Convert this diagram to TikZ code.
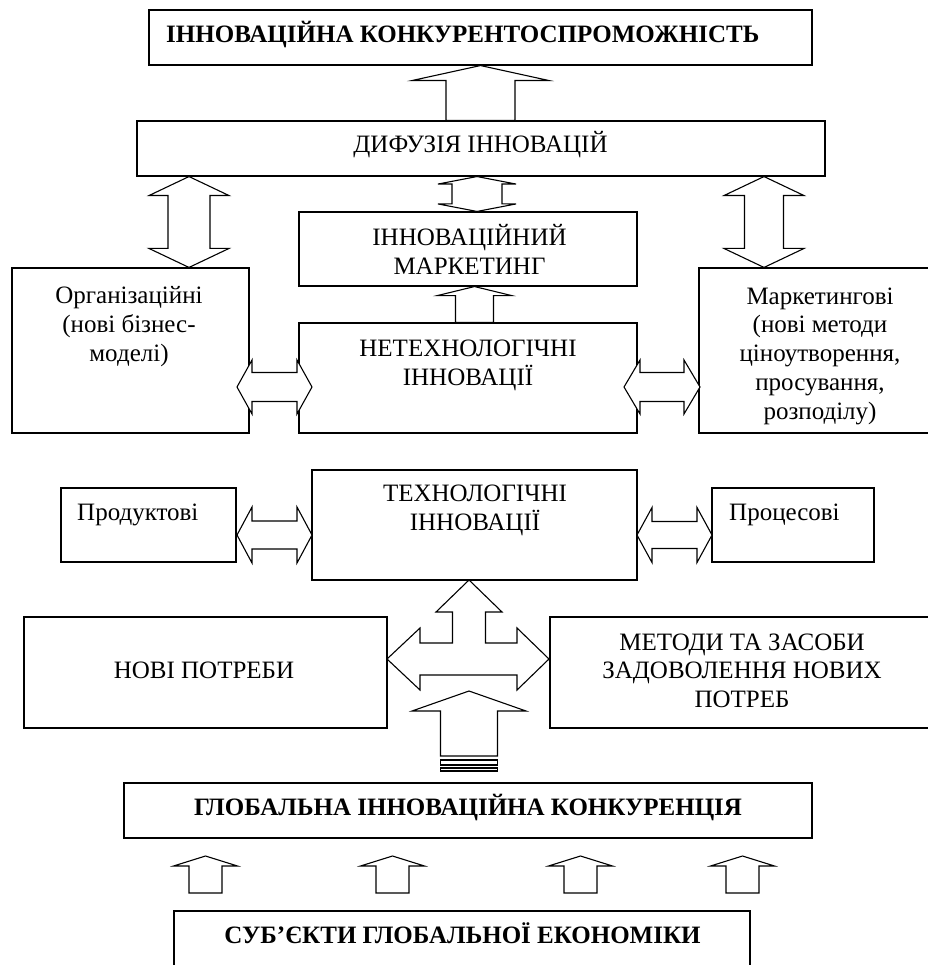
\documentclass[tikz,border=0pt]{standalone}
\usepackage{fontspec}
\setmainfont{Liberation Serif}

\tikzset{
  box/.style={draw, rectangle, line width=1.1pt, inner sep=0pt},
  txt/.style={font=\fontsize{25}{28.75}\selectfont, align=center, inner sep=0pt},
  ttl/.style={txt, font=\fontsize{25}{28.75}\selectfont\bfseries},
  blockarr/.style={draw, fill=white, line width=1.1pt, line join=miter}
}

\newcommand{\uparr}[5]{%
  \draw[blockarr] (#1) -- ([shift={(#4,#5)}]#1) -- ([shift={(#3,#5)}]#1) -- ([shift={(#3,0)}]#2)
    -- ([shift={(-#3,0)}]#2) -- ([shift={(-#3,#5)}]#1) -- ([shift={(-#4,#5)}]#1) -- cycle;}
\newcommand{\vdarr}[5]{%
  \draw[blockarr] (#1) -- ([shift={(#4,#5)}]#1) -- ([shift={(#3,#5)}]#1) -- ([shift={(#3,-#5)}]#2)
    -- ([shift={(#4,-#5)}]#2) -- (#2) -- ([shift={(-#4,-#5)}]#2) -- ([shift={(-#3,-#5)}]#2)
    -- ([shift={(-#3,#5)}]#1) -- ([shift={(-#4,#5)}]#1) -- cycle;}
\newcommand{\hdarr}[5]{%
  \draw[blockarr] (#1) -- ([shift={(#5,-#4)}]#1) -- ([shift={(#5,-#3)}]#1) -- ([shift={(-#5,-#3)}]#2)
    -- ([shift={(-#5,-#4)}]#2) -- (#2) -- ([shift={(-#5,#4)}]#2) -- ([shift={(-#5,#3)}]#2)
    -- ([shift={(#5,#3)}]#1) -- ([shift={(#5,#4)}]#1) -- cycle;}

\begin{document}
\begin{tikzpicture}[x=1pt, y=-1pt]
\path[fill=white, use as bounding box] (0,0) rectangle (927,965);

\node[box, minimum width=663, minimum height=55] (topb) at (480.5,37.5) {};
\node[box, minimum width=688, minimum height=55] (diff) at (481,148.5) {};
\node[box, minimum width=338, minimum height=74] (imark) at (468,249) {};
\node[box, minimum width=237, minimum height=165] (orgb) at (130.5,350.5) {};
\node[box, minimum width=338, minimum height=110] (nontech) at (468,378) {};
\node[box, minimum width=241, minimum height=165] (markb) at (819.5,350.5) {};
\node[box, minimum width=175, minimum height=74] (prod) at (148.5,525) {};
\node[box, minimum width=325, minimum height=110] (tech) at (474.5,525) {};
\node[box, minimum width=162, minimum height=74] (proc) at (793,525) {};
\node[box, minimum width=363, minimum height=111] (needs) at (205.5,672.5) {};
\node[box, minimum width=384, minimum height=111] (methods) at (742,672.5) {};
\node[box, minimum width=688, minimum height=55] (global) at (468,810.5) {};
\node[box, minimum width=576, minimum height=56] (subj) at (462,939) {};

\coordinate (u1t) at (480.5,0 |- topb.south);
\coordinate (u1b) at (480.5,0 |- diff.north);
\uparr{u1t}{u1b}{34.5}{68.5}{15}

\coordinate (d1t) at (189,0 |- diff.south);
\coordinate (d1b) at (189,0 |- orgb.north);
\vdarr{d1t}{d1b}{21}{40}{19}
\coordinate (d2t) at (477,0 |- diff.south);
\coordinate (d2b) at (477,0 |- imark.north);
\vdarr{d2t}{d2b}{25}{39}{7.5}
\coordinate (d3t) at (764,0 |- diff.south);
\coordinate (d3b) at (764,0 |- markb.north);
\vdarr{d3t}{d3b}{19.5}{40}{19}

\coordinate (u2t) at (474.5,0 |- imark.south);
\coordinate (u2b) at (474.5,0 |- nontech.north);
\uparr{u2t}{u2b}{19}{37}{9}

\coordinate (h1a) at (237,387);
\coordinate (h1b) at (312,387);
\hdarr{h1a}{h1b}{14.5}{27}{15}
\coordinate (h2a) at (624,387);
\coordinate (h2b) at (700,387);
\hdarr{h2a}{h2b}{14.5}{27}{16}
\coordinate (h3a) at (237,535);
\coordinate (h3b) at (312,535);
\hdarr{h3a}{h3b}{14}{28}{15}
\coordinate (h4a) at (637,535);
\coordinate (h4b) at (712,535);
\hdarr{h4a}{h4b}{13.5}{27.5}{15}

\coordinate (hub) at (469,659);
\draw[blockarr, shift={(hub)}] (0,-79) -- (33,-47) -- (16.5,-47) -- (16.5,-16) -- (48,-16) -- (48,-31)
  -- (80,0) -- (48,31) -- (48,16) -- (-49,16) -- (-49,31) -- (-82,0) -- (-49,-31) -- (-49,-16)
  -- (-16.5,-16) -- (-16.5,-47) -- (-33,-47) -- cycle;

\coordinate (bigt) at (469,691);
\coordinate (bigb) at (469,756);
\uparr{bigt}{bigb}{28.5}{57}{20}
\draw[blockarr] ([shift={(-28.5,4)}]bigb) rectangle ([shift={(28.5,9)}]bigb);
\draw[blockarr] ([shift={(-28.5,12)}]bigb) rectangle ([shift={(28.5,15)}]bigb);

\coordinate (s1t) at (205.5,856);
\coordinate (s1b) at (205.5,893);
\uparr{s1t}{s1b}{16.5}{32}{10}
\coordinate (s2t) at (392.5,856);
\coordinate (s2b) at (392.5,893);
\uparr{s2t}{s2b}{16.5}{32}{10}
\coordinate (s3t) at (580.5,856);
\coordinate (s3b) at (580.5,893);
\uparr{s3t}{s3b}{16.5}{32}{10}
\coordinate (s4t) at (742.5,856);
\coordinate (s4b) at (742.5,893);
\uparr{s4t}{s4b}{16.5}{32}{10}

\node[ttl, anchor=base west] (topt) at (166,43) {ІННОВАЦІЙНА КОНКУРЕНТОСПРОМОЖНІСТЬ};
\node[txt, anchor=base] (difft) at (480.5,153) {ДИФУЗІЯ ІННОВАЦІЙ};
\node[txt, anchor=base] (imarkt) at (469.5,274) {ІННОВАЦІЙНИЙ\\МАРКЕТИНГ};
\node[txt, anchor=base] (orgt) at (129,361) {Організаційні\\(нові бізнес-\\моделі)};
\node[txt, anchor=base] (nontt) at (468,385) {НЕТЕХНОЛОГІЧНІ\\ІННОВАЦІЇ};
\node[txt, anchor=base] (markt) at (820,419) {Маркетингові\\(нові методи\\ціноутворення,\\просування,\\розподілу)};
\node[txt, anchor=base west] (prodt) at (77,520) {Продуктові};
\node[txt, anchor=base] (techt) at (475,530.5) {ТЕХНОЛОГІЧНІ\\ІННОВАЦІЇ};
\node[txt, anchor=base west] (proct) at (729,520) {Процесові};
\node[txt, anchor=base] (needt) at (204,678) {НОВІ ПОТРЕБИ};
\node[txt, anchor=base] (metht) at (742,707.5) {МЕТОДИ ТА ЗАСОБИ\\ЗАДОВОЛЕННЯ НОВИХ\\ПОТРЕБ};
\node[ttl, anchor=base] (globt) at (468,815) {ГЛОБАЛЬНА ІННОВАЦІЙНА КОНКУРЕНЦІЯ};
\node[ttl, anchor=base] (subjt) at (462.5,943) {СУБ’ЄКТИ ГЛОБАЛЬНОЇ ЕКОНОМІКИ};
\end{tikzpicture}
\end{document}
